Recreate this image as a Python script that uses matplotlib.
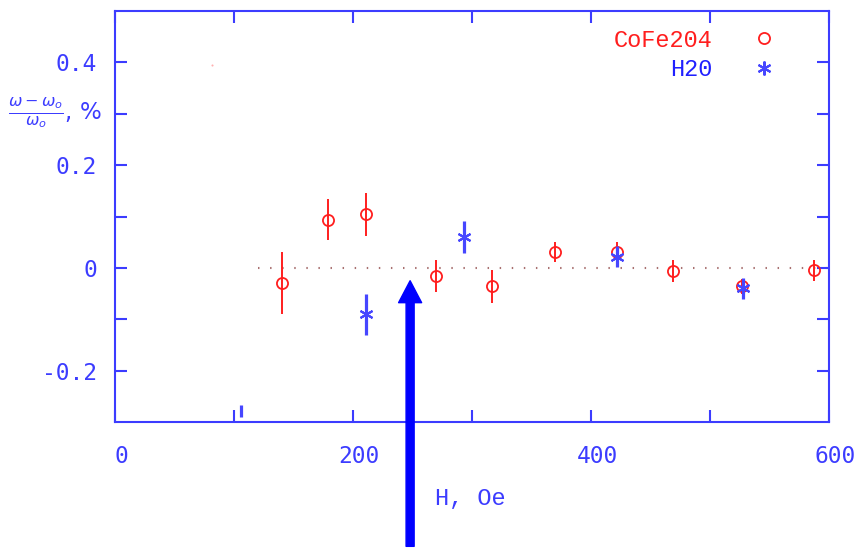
import matplotlib
matplotlib.use('Agg')
import matplotlib.pyplot as plt
import matplotlib.transforms as mtransforms
from matplotlib.ticker import FixedLocator

# CoFe204: campo H (Oe), desviacion relativa (%) y error
H_cofe = [140, 179, 211, 270, 317, 370, 422, 469, 527, 587]
d_cofe = [-0.030, 0.094, 0.104, -0.016, -0.036, 0.031, 0.031, -0.006, -0.036, -0.005]
e_cofe = [0.060, 0.040, 0.041, 0.031, 0.032, 0.020, 0.020, 0.021, 0.015, 0.020]

# H20
H_h2o = [211, 293, 422, 528]
d_h2o = [-0.090, 0.060, 0.022, -0.040]
e_h2o = [0.040, 0.031, 0.021, 0.020]

# restos sueltos que aparecen en la imagen
stray_bar_x = [106]
stray_bar_lo = [-0.290]
stray_bar_hi = [-0.267]
stray_dot_x = [81.5]
stray_dot_y = [0.394]

# linea de referencia en cero
zero_x = [120, 600]
zero_y = [0, 0]

# flecha
arrow_x = 248
arrow_tip = -0.025
arrow_tail = -0.542

x_major = [0, 200, 400, 600]
x_minor = [100, 300, 500]
y_major = [-0.2, 0, 0.2, 0.4]
y_minor = [-0.1, 0.1, 0.3]

axis_blue = '#3c3cff'
star_blue = '#4646ff'
red = '#ff1e1e'

fig = plt.figure(figsize=(8.62, 5.51), dpi=100)
ax = fig.add_axes([0.1334, 0.2341, 0.8283, 0.7459])

ax.plot(zero_x, zero_y, color='#a87070', lw=1.5, linestyle=(0, (0.7, 5.1)), zorder=1)

cofe = ax.errorbar(H_cofe, d_cofe, yerr=e_cofe, fmt='o', mfc='none', mec=red, ms=8,
                   mew=1.3, ecolor=red, elinewidth=1.4, capsize=0, zorder=3)
ax.errorbar(H_h2o, d_h2o, yerr=e_h2o, fmt='none', ecolor=star_blue, elinewidth=2.3,
            capsize=0, zorder=4)
star, = ax.plot(H_h2o, d_h2o, ls='none', marker=(6, 2, 0), ms=10, mec=star_blue,
                mfc=star_blue, mew=1.5, color=star_blue, zorder=5)
ax.vlines(stray_bar_x, stray_bar_lo, stray_bar_hi, color=star_blue, lw=2.3)
ax.plot(stray_dot_x, stray_dot_y, ls='none', marker='o', ms=1.5, color='#ffb0b0', mew=0)

ax.annotate('', xy=(arrow_x, arrow_tip), xytext=(arrow_x, arrow_tail),
            xycoords='data', annotation_clip=False,
            arrowprops=dict(arrowstyle='simple,head_width=1.66,head_length=1.58,tail_width=0.58',
                            mutation_scale=10, color='#0000ff', shrinkA=0, shrinkB=0))

ax.set_xlim(0, 600)
ax.set_ylim(-0.3, 0.5)

ax.xaxis.set_major_locator(FixedLocator(x_major))
ax.xaxis.set_minor_locator(FixedLocator(x_minor))
ax.yaxis.set_major_locator(FixedLocator(y_major))
ax.yaxis.set_minor_locator(FixedLocator(y_minor))
ax.set_xticklabels([str(v) for v in x_major])
ax.set_yticklabels(['-0.2', '0', '0.2', '0.4'])

for s in ax.spines.values():
    s.set_color(axis_blue)
    s.set_linewidth(1.5)

ax.tick_params(which='both', direction='in', length=8.6, width=1.5, color=axis_blue,
               top=True, right=True, labelcolor=axis_blue)
ax.tick_params(axis='x', which='major', pad=16.5)
ax.tick_params(axis='y', which='major', pad=13)

for lab in ax.get_xticklabels() + ax.get_yticklabels():
    lab.set_fontfamily('DejaVu Sans Mono')
    lab.set_fontsize(16.5)
shift = mtransforms.ScaledTranslation(6 / 100, 0, fig.dpi_scale_trans)
for lab in ax.get_xticklabels():
    lab.set_transform(lab.get_transform() + shift)

ax.set_xlabel('H, Oe', color=axis_blue, fontsize=17, family='Liberation Mono')
ax.xaxis.set_label_coords(0.497, -0.185)
ax.xaxis.label.set_va('center')

ax.set_ylabel(r'$\frac{\omega-\omega_o}{\omega_o}$, %', color=axis_blue, fontsize=16.5,
              rotation=0, ha='center', va='center')
ax.yaxis.set_label_coords(-0.084, 0.752)

leg = ax.legend([cofe[0], star], ['CoFe204', 'H20'], loc='upper right',
                bbox_to_anchor=(0.9426, 0.957), borderaxespad=0, borderpad=0,
                frameon=False, markerfirst=False, handlelength=2, handletextpad=1.2,
                labelspacing=0.28, prop={'family': 'Liberation Mono', 'size': 17})
for txt, c in zip(leg.get_texts(), [red, '#2020ff']):
    txt.set_color(c)

fig.savefig('out.png', dpi=100)
